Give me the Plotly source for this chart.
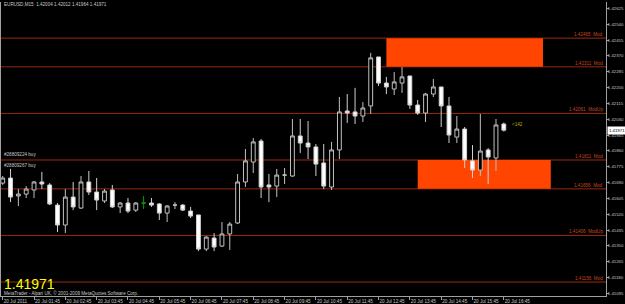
import plotly.graph_objects as go
import pandas as pd

# ---- data (EURUSD M15, 20 Jul 2011) ----
times = pd.date_range("2011-07-20 00:45", periods=65, freq="15min")
opens = [1.41687, 1.41714, 1.41618, 1.41628, 1.41650, 1.41693, 1.41677, 1.41569, 1.41462, 1.41612,
         1.41553, 1.41693, 1.41639, 1.41591, 1.41650, 1.41559, 1.41580, 1.41542, 1.41580, 1.41580,
         1.41575, 1.41526, 1.41569, 1.41569, 1.41537, 1.41516, 1.41333, 1.41392, 1.41349, 1.41414,
         1.41473, 1.41693, 1.41800, 1.41913, 1.41677, 1.41671, 1.41730, 1.41725, 1.41940, 1.41902,
         1.41881, 1.41795, 1.41666, 1.41865, 1.42074, 1.42069, 1.42047, 1.42101, 1.42364, 1.42224,
         1.42192, 1.42224, 1.42262, 1.42106, 1.42063, 1.42165, 1.42203, 1.42101, 1.41934, 1.41977,
         1.41806, 1.41757, 1.41865, 1.41822, 1.42004]
highs = [1.41725, 1.41763, 1.41655, 1.41671, 1.41698, 1.41747, 1.41687, 1.41580, 1.41655, 1.41693,
         1.41725, 1.41752, 1.41714, 1.41655, 1.41677, 1.41585, 1.41607, 1.41585, 1.41618, 1.41607,
         1.41580, 1.41569, 1.41585, 1.41575, 1.41559, 1.41516, 1.41403, 1.41419, 1.41478, 1.41478,
         1.41736, 1.41870, 1.41929, 1.41924, 1.41736, 1.41763, 1.41768, 1.42031, 1.42031, 1.42020,
         1.41897, 1.41897, 1.41908, 1.42149, 1.42165, 1.42198, 1.42122, 1.42386, 1.42364, 1.42257,
         1.42283, 1.42310, 1.42262, 1.42133, 1.42171, 1.42246, 1.42203, 1.42149, 1.42047, 1.41988,
         1.41891, 1.42058, 1.41875, 1.42031, 1.42012]
lows = [1.41677, 1.41585, 1.41564, 1.41607, 1.41607, 1.41655, 1.41569, 1.41424, 1.41419, 1.41542,
        1.41548, 1.41623, 1.41542, 1.41580, 1.41553, 1.41526, 1.41526, 1.41532, 1.41548, 1.41559,
        1.41489, 1.41478, 1.41548, 1.41537, 1.41499, 1.41322, 1.41322, 1.41322, 1.41344, 1.41328,
        1.41467, 1.41666, 1.41741, 1.41607, 1.41585, 1.41612, 1.41682, 1.41720, 1.41849, 1.41816,
        1.41725, 1.41655, 1.41650, 1.41816, 1.42010, 1.42004, 1.42015, 1.42058, 1.42208, 1.42165,
        1.42160, 1.42171, 1.42085, 1.42053, 1.42015, 1.42149, 1.41988, 1.41902, 1.41902, 1.41768,
        1.41714, 1.41725, 1.41682, 1.41752, 1.41964]
closes = [1.41714, 1.41612, 1.41628, 1.41655, 1.41693, 1.41682, 1.41575, 1.41462, 1.41612, 1.41559,
          1.41693, 1.41639, 1.41596, 1.41644, 1.41559, 1.41580, 1.41537, 1.41580, 1.41580, 1.41569,
          1.41526, 1.41564, 1.41569, 1.41542, 1.41510, 1.41333, 1.41397, 1.41344, 1.41414, 1.41467,
          1.41693, 1.41806, 1.41908, 1.41666, 1.41666, 1.41730, 1.41730, 1.41940, 1.41902, 1.41881,
          1.41789, 1.41671, 1.41865, 1.42069, 1.42063, 1.42047, 1.42090, 1.42359, 1.42224, 1.42203,
          1.42230, 1.42257, 1.42106, 1.42063, 1.42165, 1.42203, 1.42101, 1.41945, 1.41977, 1.41811,
          1.41757, 1.41859, 1.41827, 1.41999, 1.41971]
green_bars = [18]

# horizontal Murrey-style levels
level_prices = [1.42465, 1.42311, 1.42061, 1.41811, 1.41656, 1.41406, 1.41156]
level_names = ["Mod", "Mod", "ModUp", "Mod", "Mod", "ModUp", "Mod"]

# supply / demand zones
zone_start = ["2011-07-20 13:00", "2011-07-20 14:00"]
zone_end = ["2011-07-20 18:00", "2011-07-20 18:15"]
zone_low = [1.42311, 1.41656]
zone_high = [1.42465, 1.41811]

# price axis labels
price_ticks = [1.42625, 1.42540, 1.42455, 1.42370, 1.42285, 1.42200, 1.42115, 1.42030, 1.41945,
               1.41860, 1.41775, 1.41690, 1.41605, 1.41520, 1.41435, 1.41350, 1.41265, 1.41180, 1.41095]

orders = ["#28809224 buy", "#28809267 buy"]
order_prices = [1.41838, 1.41779]

# ---- figure ----
BG = "#000000"
AX = "#a0a0a0"
TXT = "#c8c8c8"
FONT = "Liberation Sans"
FS = 4.6
FSY = 4.3

main_idx = [i for i in range(len(times)) if i not in green_bars]

fig = go.Figure()
fig.add_trace(go.Candlestick(
    x=[times[i] for i in main_idx],
    open=[opens[i] for i in main_idx], high=[highs[i] for i in main_idx],
    low=[lows[i] for i in main_idx], close=[closes[i] for i in main_idx],
    increasing=dict(line=dict(color="#c0c0c0", width=1), fillcolor="#000000"),
    decreasing=dict(line=dict(color="#d0d0d0", width=1), fillcolor="#ffffff"),
    showlegend=False, hoverinfo="skip",
))
fig.add_trace(go.Candlestick(
    x=[times[i] for i in green_bars],
    open=[opens[i] for i in green_bars], high=[highs[i] for i in green_bars],
    low=[lows[i] for i in green_bars], close=[closes[i] for i in green_bars],
    increasing=dict(line=dict(color="#00a000", width=1), fillcolor="#00a000"),
    decreasing=dict(line=dict(color="#00a000", width=1), fillcolor="#00a000"),
    showlegend=False, hoverinfo="skip",
))

shapes = []
for x0, x1, y0, y1 in zip(zone_start, zone_end, zone_low, zone_high):
    shapes.append(dict(type="rect", xref="x", yref="y", x0=x0, x1=x1, y0=y0, y1=y1,
                       fillcolor="#ff4500", line=dict(width=0), layer="below"))
for p in level_prices:
    shapes.append(dict(type="line", xref="paper", yref="y", x0=0, x1=1, y0=p, y1=p,
                       line=dict(color="#9a2a0a", width=1), layer="below"))

ann = []
for p, n in zip(level_prices, level_names):
    ann.append(dict(xref="paper", yref="y", x=0.997, y=p, xanchor="right", yanchor="bottom",
                    text=f"{p:.5f}  {n}", showarrow=False, borderpad=0,
                    font=dict(size=FS, color="#c8461e", family=FONT)))
for t, p in zip(orders, order_prices):
    ann.append(dict(xref="paper", yref="y", x=0.003, y=p, xanchor="left", yanchor="middle",
                    text=t, showarrow=False, borderpad=0,
                    font=dict(size=FS, color=TXT, family=FONT)))
ann.append(dict(xref="paper", yref="paper", x=0.003, y=0.99, xanchor="left", yanchor="middle",
                text=f"EURUSD,M15  {opens[-1]:.5f} {highs[-1]:.5f} {lows[-1]:.5f} {closes[-1]:.5f}",
                showarrow=False, borderpad=0, font=dict(size=FS, color=TXT, family=FONT)))
ann.append(dict(xref="paper", yref="paper", x=0.003, y=0.042, xanchor="left", yanchor="middle",
                text=f"{closes[-1]:.5f}", showarrow=False, borderpad=0,
                font=dict(size=14, color="#ffff00", family=FONT)))
ann.append(dict(xref="paper", yref="paper", x=0.003, y=0.011, xanchor="left", yanchor="middle",
                text="MetaTrader - Alpari UK, © 2001-2009 MetaQuotes Software Corp.",
                showarrow=False, borderpad=0, font=dict(size=FS, color=TXT, family=FONT)))
ann.append(dict(xref="x", yref="y", x="2011-07-20 16:58", y=1.42004, xanchor="left", yanchor="middle",
                text="&lt;142", showarrow=False, borderpad=0,
                font=dict(size=FS, color="#b4b400", family=FONT)))
ann.append(dict(xref="paper", yref="y", x=1, xshift=1, y=closes[-1], xanchor="left", yanchor="middle",
                text=f"{closes[-1]:.5f}", showarrow=False, borderpad=1, bgcolor="#ffffff",
                font=dict(size=FSY, color="#000000", family=FONT)))

tick_times = list(times[::4])
tick_text = ["20 Jul 2011"] + [f"20 Jul {t:%H:%M}" for t in tick_times[1:]]

fig.update_layout(
    width=625, height=304,
    margin=dict(l=1, r=19, t=2, b=8, autoexpand=False),
    paper_bgcolor=BG, plot_bgcolor=BG,
    boxgap=0.3,
    shapes=shapes, annotations=ann,
    showlegend=False,
    xaxis=dict(type="date", range=["2011-07-20 00:41:44", "2011-07-20 20:00:45"],
               rangeslider=dict(visible=False), showgrid=False, zeroline=False,
               showline=True, linecolor=AX, linewidth=1, automargin=False, tickangle=0,
               ticks="outside", ticklen=3, tickcolor=AX, tickwidth=1,
               tickvals=tick_times, ticktext=tick_text, ticklabelposition="outside right",
               tickfont=dict(size=FS, color=TXT, family=FONT)),
    yaxis=dict(side="right", range=[1.41081, 1.42659], showgrid=False, zeroline=False,
               showline=True, mirror=True, linecolor=AX, linewidth=1, automargin=False,
               ticks="outside", ticklen=2, tickcolor=AX, tickwidth=1, ticklabelstandoff=-2,
               tickvals=price_ticks, ticktext=[f"{v:.5f}" for v in price_ticks],
               tickfont=dict(size=FSY, color=TXT, family=FONT)),
)

fig.write_html("out.html")
